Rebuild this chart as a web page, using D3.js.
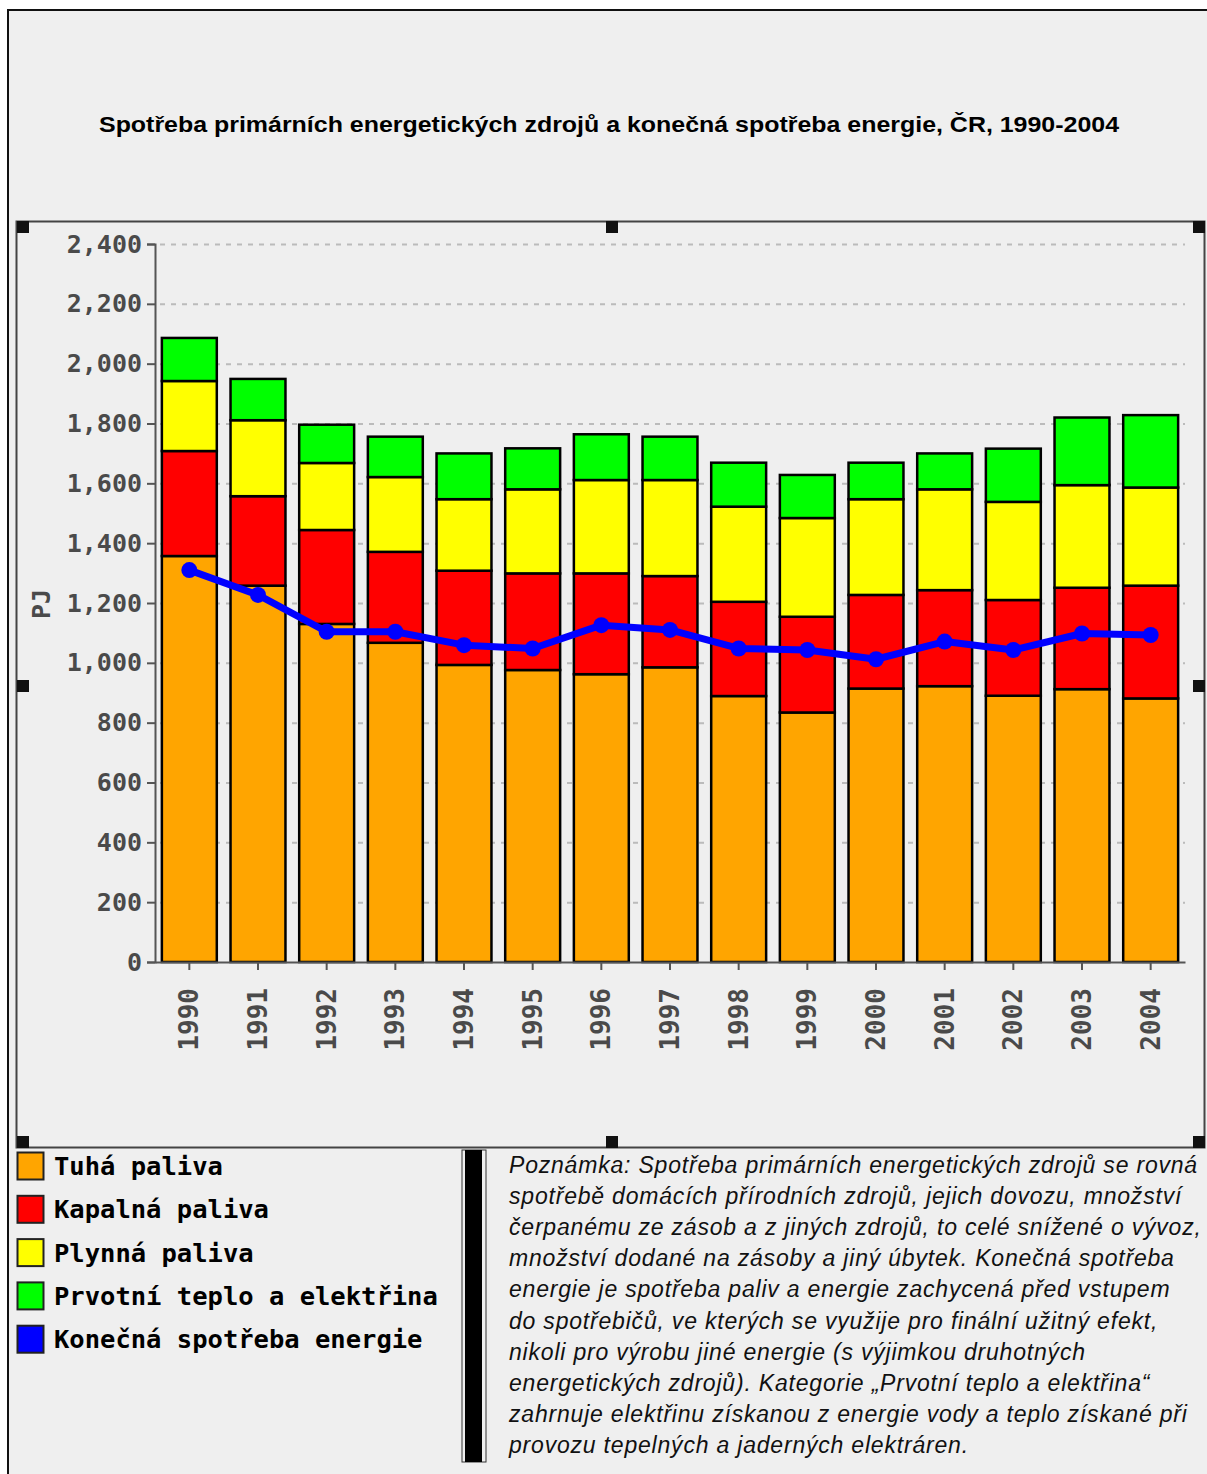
<!DOCTYPE html>
<html>
<head>
<meta charset="utf-8">
<script src="https://cdn.jsdelivr.net/npm/d3@7"></script>
<style>
  body { margin: 0; background: #fff; }
  svg { display: block; }
</style>
</head>
<body>
<svg id="chart" width="1207" height="1474"></svg>
<script>
// data (PJ)
var years = ['1990','1991','1992','1993','1994','1995','1996','1997','1998','1999','2000','2001','2002','2003','2004'];
var tuha     = [1357, 1258, 1130, 1067, 993, 976, 962, 985, 889, 834, 914, 922, 890, 912, 881];
var kapalna  = [351, 299, 314, 304, 315, 323, 337, 305, 315, 320, 313, 321, 320, 339, 377];
var plynna   = [234, 254, 224, 250, 239, 281, 312, 321, 318, 330, 320, 337, 328, 343, 328];
var prvotni  = [144, 138, 128, 135, 153, 137, 153, 145, 147, 144, 122, 120, 178, 226, 242];
var konecna  = [1310, 1227, 1104, 1104, 1059, 1048, 1126, 1110, 1048, 1043, 1012, 1071, 1043, 1098, 1093];
var yTicks   = [0, 200, 400, 600, 800, 1000, 1200, 1400, 1600, 1800, 2000, 2200, 2400];

var seriesNames  = ['Tuhá paliva', 'Kapalná paliva', 'Plynná paliva', 'Prvotní teplo a elektřina', 'Konečná spotřeba energie'];
var seriesColors = ['#ffa500', '#ff0000', '#ffff00', '#00ff00', '#0000ff'];

var noteLines = [
  'Poznámka: Spotřeba primárních energetických zdrojů se rovná',
  'spotřebě domácích přírodních zdrojů, jejich dovozu, množství',
  'čerpanému ze zásob a z jiných zdrojů, to celé snížené o vývoz,',
  'množství dodané na zásoby a jiný úbytek. Konečná spotřeba',
  'energie je spotřeba paliv a energie zachycená před vstupem',
  'do spotřebičů, ve kterých se využije pro finální užitný efekt,',
  'nikoli pro výrobu jiné energie (s výjimkou druhotných',
  'energetických zdrojů). Kategorie „Prvotní teplo a elektřina“',
  'zahrnuje elektřinu získanou z energie vody a teplo získané při',
  'provozu tepelných a jaderných elektráren.'
];

var svg = d3.select('#chart');
var mono = '"DejaVu Sans Mono", "Liberation Mono", monospace';

// outer frame
svg.append('rect').attr('x', 8).attr('y', 10).attr('width', 1205).attr('height', 1470)
  .attr('fill', '#efefef').attr('stroke', '#111').attr('stroke-width', 2);

// title
svg.append('text')
  .attr('x', 609).attr('y', 132)
  .attr('text-anchor', 'middle')
  .attr('font-family', '"Liberation Sans", Arial, sans-serif')
  .attr('font-weight', 'bold').attr('font-size', 22)
  .attr('textLength', 1020).attr('lengthAdjust', 'spacingAndGlyphs')
  .attr('fill', '#000')
  .text('Spotřeba primárních energetických zdrojů a konečná spotřeba energie, ČR, 1990-2004');

// chart panel
svg.append('rect').attr('x', 16.5).attr('y', 221.5).attr('width', 1188).attr('height', 926)
  .attr('fill', 'none').attr('stroke', '#444').attr('stroke-width', 2);

var handles = [[17,221],[606,221],[1193,221],[17,680],[1193,680],[17,1136],[606,1136],[1193,1136]];
svg.selectAll('rect.handle').data(handles).enter().append('rect')
  .attr('class', 'handle')
  .attr('x', function(d) { return d[0]; }).attr('y', function(d) { return d[1]; })
  .attr('width', 12).attr('height', 12).attr('fill', '#111');

var x = d3.scaleBand().domain(years).range([155, 1185]).paddingInner(0.2).paddingOuter(0.1);
var y = d3.scaleLinear().domain([0, 2400]).range([962, 244]);

// grid
svg.append('g').selectAll('line').data(yTicks.slice(1)).enter().append('line')
  .attr('x1', 160).attr('x2', 1185)
  .attr('y1', function(d) { return y(d) + 0.5; }).attr('y2', function(d) { return y(d) + 0.5; })
  .attr('stroke', '#bbb').attr('stroke-width', 2).attr('stroke-dasharray', '5,6');

// stacked bars
var rows = years.map(function(yr, i) {
  return { year: yr, tuha: tuha[i], kapalna: kapalna[i], plynna: plynna[i], prvotni: prvotni[i] };
});
var stack = d3.stack().keys(['tuha', 'kapalna', 'plynna', 'prvotni'])(rows);

svg.append('g').selectAll('g').data(stack).enter().append('g')
  .attr('fill', function(d, i) { return seriesColors[i]; })
  .selectAll('rect').data(function(d) { return d; }).enter().append('rect')
  .attr('x', function(d) { return x(d.data.year); })
  .attr('width', x.bandwidth())
  .attr('y', function(d) { return y(d[1]); })
  .attr('height', function(d) { return y(d[0]) - y(d[1]); })
  .attr('stroke', '#000').attr('stroke-width', 2.5);

// y axis
var yAxis = svg.append('g').attr('transform', 'translate(155,0)')
  .call(d3.axisLeft(y).tickValues(yTicks).tickSize(8).tickPadding(5).tickFormat(d3.format(',')));
yAxis.select('.domain').attr('stroke', '#555').attr('stroke-width', 2);
yAxis.selectAll('.tick line').attr('stroke', '#555').attr('stroke-width', 2);
yAxis.selectAll('text').attr('font-family', mono).attr('font-weight', 'bold')
  .attr('font-size', 25).attr('fill', '#4a4a4a');

// x axis
var xAxis = svg.append('g').attr('transform', 'translate(0,962)')
  .call(d3.axisBottom(x).tickSize(8).tickSizeOuter(0));
xAxis.select('.domain').attr('stroke', '#555').attr('stroke-width', 2);
xAxis.selectAll('.tick line').attr('stroke', '#555').attr('stroke-width', 2);
xAxis.selectAll('text')
  .attr('font-family', mono).attr('font-weight', 'bold').attr('font-size', 26).attr('fill', '#4a4a4a')
  .attr('transform', 'rotate(-90)')
  .attr('text-anchor', 'end').attr('x', -26).attr('y', 0).attr('dy', '0.35em');

// y label
svg.append('text').attr('transform', 'translate(50,604) rotate(-90)')
  .attr('text-anchor', 'middle')
  .attr('font-family', mono).attr('font-weight', 'bold').attr('font-size', 25).attr('fill', '#4a4a4a')
  .text('PJ');

// line
var line = d3.line()
  .x(function(d, i) { return x(years[i]) + x.bandwidth() / 2; })
  .y(function(d) { return y(d); });
svg.append('path').datum(konecna).attr('d', line)
  .attr('fill', 'none').attr('stroke', '#0000ff').attr('stroke-width', 7).attr('stroke-linejoin', 'round');
svg.append('g').selectAll('circle').data(konecna).enter().append('circle')
  .attr('cx', function(d, i) { return x(years[i]) + x.bandwidth() / 2; })
  .attr('cy', function(d) { return y(d); })
  .attr('r', 8).attr('fill', '#0000ff');

// legend
var leg = svg.append('g').selectAll('g').data(seriesNames).enter().append('g')
  .attr('transform', function(d, i) { return 'translate(17,' + (1152 + i * 43.3) + ')'; });
leg.append('rect').attr('x', 0.5).attr('y', 0.5).attr('width', 26).attr('height', 27)
  .attr('fill', function(d, i) { return seriesColors[i]; })
  .attr('stroke', '#222').attr('stroke-width', 2);
leg.append('text').attr('x', 37).attr('y', 23)
  .attr('font-family', mono).attr('font-weight', 'bold').attr('font-size', 25.5).attr('fill', '#000')
  .text(function(d) { return d; });

// separator
svg.append('rect').attr('x', 462).attr('y', 1150).attr('width', 24).attr('height', 312)
  .attr('fill', 'none').attr('stroke', '#333').attr('stroke-width', 1);
svg.append('rect').attr('x', 465).attr('y', 1150).attr('width', 17).attr('height', 312).attr('fill', '#000');

// note
svg.append('g').selectAll('text').data(noteLines).enter().append('text')
  .attr('x', 509).attr('y', function(d, i) { return 1173 + i * 31.1; })
  .attr('font-family', '"Liberation Sans", Arial, sans-serif')
  .attr('font-style', 'italic').attr('font-size', 23).attr('letter-spacing', 0.8).attr('fill', '#111')
  .text(function(d) { return d; });
</script>
</body>
</html>
